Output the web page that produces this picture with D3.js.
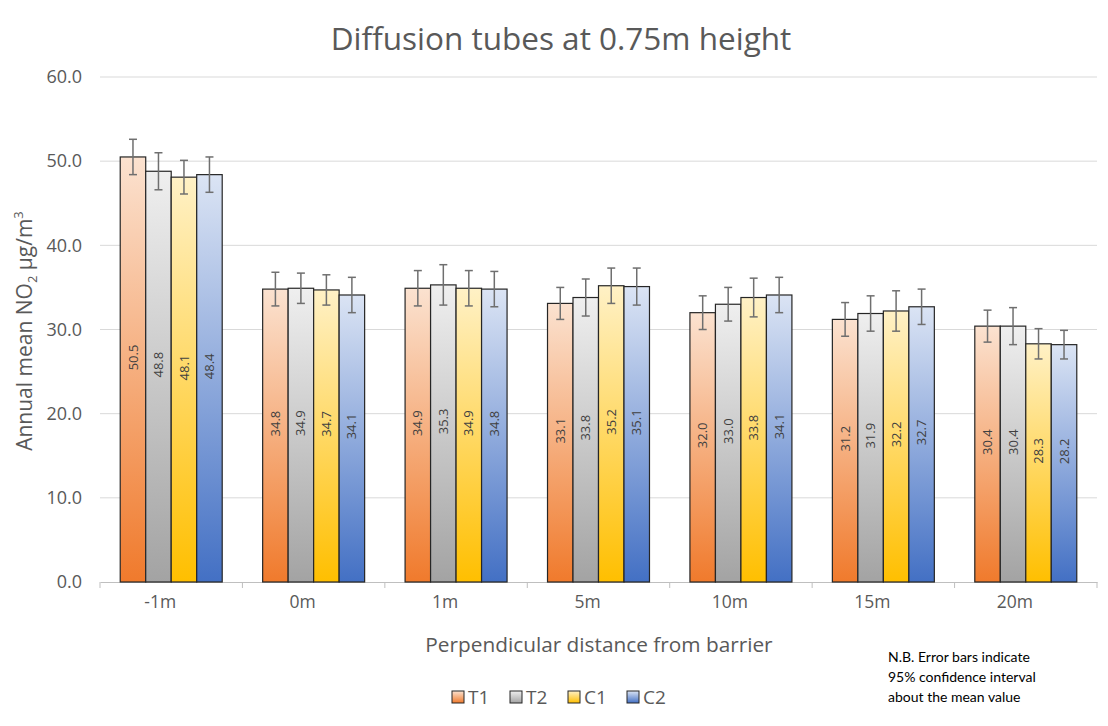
<!DOCTYPE html>
<html>
<head>
<meta charset="utf-8">
<script src="https://cdn.jsdelivr.net/npm/d3@7"></script>
<style>
  html, body { margin: 0; padding: 0; background: #fff; }
  svg { display: block; }
</style>
</head>
<body>
<svg id="chart" width="1108" height="726"></svg>
<script>
const categories = ["-1m", "0m", "1m", "5m", "10m", "15m", "20m"];
const seriesNames = ["T1", "T2", "C1", "C2"];
const T1 = [50.5, 34.8, 34.9, 33.1, 32.0, 31.2, 30.4];
const T2 = [48.8, 34.9, 35.3, 33.8, 33.0, 31.9, 30.4];
const C1 = [48.1, 34.7, 34.9, 35.2, 33.8, 32.2, 28.3];
const C2 = [48.4, 34.1, 34.8, 35.1, 34.1, 32.7, 28.2];
const errT1 = [2.1, 2.0, 2.1, 1.9, 2.0, 2.0, 1.9];
const errT2 = [2.2, 1.8, 2.4, 2.2, 2.0, 2.1, 2.2];
const errC1 = [2.0, 1.8, 2.1, 2.1, 2.3, 2.4, 1.8];
const errC2 = [2.1, 2.1, 2.1, 2.2, 2.1, 2.1, 1.7];
const yTicks = [0, 10, 20, 30, 40, 50, 60];

const seriesValues = [T1, T2, C1, C2];
const seriesErrors = [errT1, errT2, errC1, errC2];
const gradStops = [
  ["#fbe2d0", "#f07a2c"],
  ["#efefef", "#a3a3a3"],
  ["#fff1c6", "#ffbf00"],
  ["#dbe4f4", "#4370c4"]
];

const svg = d3.select("#chart");
const font = "'Open Sans', sans-serif";
const textColor = "#595959";

const margin = { left: 100, right: 1097, top: 77, bottom: 582 };

const x0 = d3.scaleBand().domain(categories).range([margin.left, margin.right]).padding(0);
const groupW = x0.bandwidth() * 0.716;
const x1 = d3.scaleBand().domain(seriesNames).range([0, groupW]).padding(0);
const y = d3.scaleLinear().domain([0, 60]).range([margin.bottom, margin.top]);

// gradients
const defs = svg.append("defs");
seriesNames.forEach((s, i) => {
  const g = defs.append("linearGradient")
    .attr("id", "grad" + i)
    .attr("x1", 0).attr("y1", 0).attr("x2", 0).attr("y2", 1);
  g.append("stop").attr("offset", "0%").attr("stop-color", gradStops[i][0]);
  g.append("stop").attr("offset", "100%").attr("stop-color", gradStops[i][1]);
});

// title
svg.append("text")
  .attr("x", 561).attr("y", 50)
  .attr("text-anchor", "middle")
  .attr("font-family", font)
  .attr("font-size", 31.5)
  .attr("fill", textColor)
  .text("Diffusion tubes at 0.75m height");

// gridlines
svg.append("g").selectAll("line")
  .data(yTicks.filter(d => d > 0))
  .join("line")
  .attr("x1", margin.left).attr("x2", margin.right)
  .attr("y1", d => y(d)).attr("y2", d => y(d))
  .attr("stroke", "#d9d9d9").attr("stroke-width", 1);

// y axis
const yAxis = d3.axisLeft(y).tickValues(yTicks).tickFormat(d3.format(".1f")).tickSize(0).tickPadding(18);
const yG = svg.append("g").attr("transform", `translate(${margin.left},0)`).call(yAxis);
yG.select(".domain").remove();
yG.selectAll("text")
  .attr("font-family", font).attr("font-size", 18).attr("fill", textColor);

// x axis
const xAxis = d3.axisBottom(x0).tickSize(0).tickPadding(14);
const xG = svg.append("g").attr("transform", `translate(0,${margin.bottom})`).call(xAxis);
xG.select(".domain").attr("stroke", "#bfbfbf");
xG.selectAll("text")
  .attr("font-family", font).attr("font-size", 17.5).attr("fill", textColor)
  .attr("dx", -11);
// category boundary tick marks
svg.append("g").selectAll("line")
  .data(categories.concat(["__end"]))
  .join("line")
  .attr("x1", (d, i) => margin.left + i * x0.step())
  .attr("x2", (d, i) => margin.left + i * x0.step())
  .attr("y1", margin.bottom).attr("y2", margin.bottom + 6)
  .attr("stroke", "#bfbfbf");

// bars
const barsData = [];
categories.forEach((c, ci) => {
  seriesNames.forEach((s, si) => {
    barsData.push({ cat: c, series: s, si, value: seriesValues[si][ci], err: seriesErrors[si][ci] });
  });
});
const offset = (x0.bandwidth() - groupW) / 2;
const bx = d => x0(d.cat) + offset + x1(d.series);

svg.append("g").selectAll("rect")
  .data(barsData)
  .join("rect")
  .attr("x", bx)
  .attr("width", x1.bandwidth())
  .attr("y", d => y(d.value))
  .attr("height", d => y(0) - y(d.value))
  .attr("fill", d => `url(#grad${d.si})`)
  .attr("stroke", "#262626")
  .attr("stroke-width", 1.2);

// value labels
svg.append("g").selectAll("text")
  .data(barsData)
  .join("text")
  .attr("transform", d => {
    const cx = bx(d) + x1.bandwidth() / 2;
    const cy = (y(d.value) + y(0)) / 2 - 12;
    return `translate(${cx},${cy}) rotate(-90)`;
  })
  .attr("text-anchor", "middle")
  .attr("dy", "0.35em")
  .attr("font-family", font)
  .attr("font-size", 13)
  .attr("fill", "#404040")
  .text(d => d.value.toFixed(1));

// error bars
const eg = svg.append("g").attr("stroke", "#6f6f6f").attr("stroke-width", 1.5);
barsData.forEach(d => {
  const cx = bx(d) + x1.bandwidth() / 2;
  const yt = y(d.value + d.err), yb = y(d.value - d.err);
  eg.append("line").attr("x1", cx).attr("x2", cx).attr("y1", yt).attr("y2", yb);
  eg.append("line").attr("x1", cx - 4).attr("x2", cx + 4).attr("y1", yt).attr("y2", yt);
  eg.append("line").attr("x1", cx - 4).attr("x2", cx + 4).attr("y1", yb).attr("y2", yb);
});

// y axis title
const yTitle = svg.append("text")
  .attr("transform", "translate(32,331) rotate(-90)")
  .attr("text-anchor", "middle")
  .attr("font-family", font)
  .attr("font-size", 21)
  .attr("fill", textColor);
yTitle.append("tspan").text("Annual mean NO");
yTitle.append("tspan").attr("font-size", 13).attr("dy", 5).text("2");
yTitle.append("tspan").attr("dy", -5).text(" µg/m");
yTitle.append("tspan").attr("font-size", 13).attr("dy", -9).text("3");

// x axis title
svg.append("text")
  .attr("x", 599).attr("y", 652)
  .attr("text-anchor", "middle")
  .attr("font-family", font)
  .attr("font-size", 20.8)
  .attr("fill", textColor)
  .text("Perpendicular distance from barrier");

// legend
const legendX = [452, 510, 568, 627];
const lg = svg.append("g");
seriesNames.forEach((s, i) => {
  lg.append("rect")
    .attr("x", legendX[i]).attr("y", 691)
    .attr("width", 12).attr("height", 12)
    .attr("fill", `url(#grad${i})`)
    .attr("stroke", "#262626").attr("stroke-width", 1);
  lg.append("text")
    .attr("x", legendX[i] + 16).attr("y", 704)
    .attr("font-family", font).attr("font-size", 19)
    .attr("fill", textColor)
    .text(s);
});

// note
const noteLines = ["N.B. Error bars indicate", "95% confidence interval", "about the mean value"];
svg.append("g").selectAll("text")
  .data(noteLines)
  .join("text")
  .attr("x", 888)
  .attr("y", (d, i) => 662 + i * 20)
  .attr("font-family", "Lato, 'Liberation Sans', sans-serif")
  .attr("font-size", 14)
  .attr("fill", "#000")
  .text(d => d);
</script>
</body>
</html>
